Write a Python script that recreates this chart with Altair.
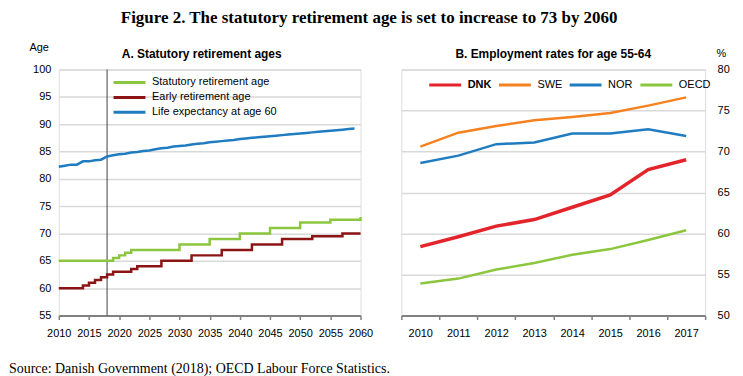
import altair as alt
import pandas as pd

# ---------- Panel A data ----------
stat_years = [2010, 2019, 2020, 2021, 2022, 2030, 2035, 2040, 2045, 2050, 2055, 2060]
stat_vals = [65, 65.5, 66, 66.5, 67, 68, 69, 70, 71, 72, 72.5, 73]

early_years = [2010, 2014, 2015, 2016, 2017, 2018, 2019, 2022, 2023, 2027, 2032,
               2037, 2042, 2047, 2052, 2057, 2060]
early_vals = [60, 60.5, 61, 61.5, 62, 62.5, 63, 63.5, 64, 65, 66, 67, 68, 69, 69.5, 70, 70]

life_years = list(range(2010, 2060))
life_vals = [82.2, 82.4, 82.6, 82.6, 83.2, 83.2, 83.4, 83.5, 84.1, 84.3,
             84.5, 84.6, 84.8, 84.9, 85.1, 85.2, 85.4, 85.6, 85.7, 85.9,
             86.0, 86.1, 86.3, 86.4, 86.5, 86.7, 86.8, 86.9, 87.0, 87.1,
             87.3, 87.4, 87.5, 87.6, 87.7, 87.8, 87.9, 88.0, 88.1, 88.2,
             88.3, 88.4, 88.5, 88.6, 88.7, 88.8, 88.9, 89.0, 89.1, 89.2]

series_a = ["Statutory retirement age", "Early retirement age", "Life expectancy at age 60"]
colors_a = ["#8CC63F", "#8B1414", "#1F7CC1"]
marker_year = [2018]

# ---------- Panel B data ----------
years_b = [2010, 2011, 2012, 2013, 2014, 2015, 2016, 2017]
dnk = [58.4, 59.6, 60.9, 61.7, 63.2, 64.7, 67.8, 69.0]
swe = [70.6, 72.3, 73.1, 73.8, 74.2, 74.7, 75.6, 76.6]
nor = [68.6, 69.5, 70.9, 71.1, 72.2, 72.2, 72.7, 71.9]
oecd = [53.9, 54.5, 55.6, 56.4, 57.4, 58.1, 59.2, 60.4]
series_b = ["DNK", "SWE", "NOR", "OECD"]
colors_b = ["#E3242B", "#F58220", "#1F7CC1", "#8CC63F"]

title_text = "Figure 2. The statutory retirement age is set to increase to 73 by 2060"
source_text = ["Source: Danish Government (2018); OECD Labour Force Statistics."]

FONT = "Liberation Sans Narrow, Arial Narrow, Liberation Sans"
FS = 11
LEG_PATH = "M-3,0H3"
LEG_SIZE = 114

rows_a = (
    [{"year": y, "value": v, "series": series_a[0]} for y, v in zip(stat_years, stat_vals)]
    + [{"year": y, "value": v, "series": series_a[1]} for y, v in zip(early_years, early_vals)]
    + [{"year": y, "value": v, "series": series_a[2]} for y, v in zip(life_years, life_vals)]
)
df_a = pd.DataFrame(rows_a)
df_a["step"] = df_a["series"] != series_a[2]

x_a = alt.X("year:Q", scale=alt.Scale(domain=[2010, 2060], nice=False, zero=False),
            axis=alt.Axis(values=list(range(2010, 2061, 5)), format="d", title=None,
                          grid=False, domainColor="#808080", domainWidth=2,
                          tickColor="#808080", tickSize=4, tickWidth=1.5,
                          labelFont=FONT, labelFontSize=FS, labelColor="#000000",
                          labelPadding=8, labelFlush=False))
y_a = alt.Y("value:Q", scale=alt.Scale(domain=[55, 100], nice=False, zero=False),
            axis=alt.Axis(values=list(range(55, 101, 5)), title="Age", titleAngle=0,
                          titleAlign="left", titleBaseline="middle", titleX=-30, titleY=-22,
                          titleFont=FONT, titleFontSize=FS, titleFontWeight="normal",
                          domain=False, ticks=False, gridColor="#D9D9D9", gridWidth=1.5,
                          labelFont=FONT, labelFontSize=FS, labelColor="#000000",
                          labelPadding=8, minExtent=48, maxExtent=48))

color_a = alt.Color("series:N", scale=alt.Scale(domain=series_a, range=colors_a),
                    legend=alt.Legend(title=None, orient="none", legendX=64, legendY=6,
                                      symbolType=LEG_PATH, symbolSize=LEG_SIZE,
                                      symbolStrokeWidth=3, labelFont=FONT,
                                      labelFontSize=FS, labelColor="#000000",
                                      rowPadding=2, labelOffset=15.6))

steps_a = alt.Chart(df_a[df_a["step"]]).mark_line(interpolate="step-after", strokeWidth=2.5).encode(
    x=x_a, y=y_a, color=color_a)
life_a = alt.Chart(df_a[~df_a["step"]]).mark_line(strokeWidth=2.5).encode(
    x=x_a, y=y_a, color=color_a)
rule_a = alt.Chart(pd.DataFrame({"year": marker_year})).mark_rule(color="#404040", strokeWidth=1).encode(
    x=x_a)

left = alt.layer(rule_a, steps_a, life_a).properties(
    width=303, height=247,
    title=alt.TitleParams("A. Statutory retirement ages", font=FONT, fontSize=12,
                          fontWeight="bold", anchor="middle", offset=-19, dx=-8),
)

rows_b = []
for name, vals in zip(series_b, [dnk, swe, nor, oecd]):
    for y, v in zip(years_b, vals):
        rows_b.append({"year": y, "value": v, "country": name})
df_b = pd.DataFrame(rows_b)

x_b = alt.X("year:Q", scale=alt.Scale(domain=[2009.5, 2017.5], nice=False, zero=False),
            axis=alt.Axis(values=[2009.5 + i for i in range(9)], title=None, grid=False,
                          labelExpr="datum.value > 2017 ? '' : format(datum.value + 0.5, 'd')",
                          labelOffset=19, domainColor="#808080", domainWidth=2,
                          tickColor="#808080", tickSize=4, tickWidth=1.5,
                          labelFont=FONT, labelFontSize=FS, labelColor="#000000",
                          labelPadding=8, labelFlush=False))
y_b = alt.Y("value:Q", scale=alt.Scale(domain=[50, 80], nice=False, zero=False),
            axis=alt.Axis(orient="right", values=list(range(50, 81, 5)), title="%",
                          titleAngle=0, titleAlign="left", titleBaseline="middle",
                          titleX=11, titleY=-16, titleFont=FONT, titleFontSize=FS,
                          titleFontWeight="normal", domain=False, ticks=False,
                          gridColor="#D9D9D9", gridWidth=1.5, labelFont=FONT,
                          labelFontSize=FS, labelColor="#000000", labelPadding=12))
color_b = alt.Color("country:N", scale=alt.Scale(domain=series_b, range=colors_b),
                    sort=series_b,
                    legend=alt.Legend(title=None, orient="none", legendX=37, legendY=8.5,
                                      direction="horizontal", symbolType=LEG_PATH,
                                      symbolSize=LEG_SIZE, symbolStrokeWidth=3,
                                      labelFont=FONT, labelFontSize=FS, labelColor="#000000",
                                      labelFontWeight=alt.ExprRef(
                                          "datum.label == 'DNK' ? 'bold' : 'normal'"),
                                      columnPadding=0, labelOffset=15.6))

right = alt.Chart(df_b).mark_line().encode(
    x=x_b, y=y_b, color=color_b,
    strokeWidth=alt.condition("datum.country == 'DNK'", alt.value(3.5), alt.value(2.5)),
).properties(
    width=305, height=247,
    title=alt.TitleParams("B. Employment rates for age 55-64", font=FONT, fontSize=12,
                          fontWeight="bold", anchor="middle", offset=-13),
)

top = alt.hconcat(left, right, spacing=26).resolve_scale(color="independent")

footer = alt.Chart(pd.DataFrame({"t": source_text})).mark_text(
    align="left", baseline="middle", font="Liberation Serif", fontSize=14, color="#000000"
).encode(x=alt.value(-50), y=alt.value(0), text="t:N").properties(width=10, height=4)

chart = alt.vconcat(top, footer, spacing=22).properties(
    title=alt.TitleParams(title_text, font="Liberation Serif", fontSize=17, fontWeight="bold",
                          anchor="middle", color="#000000", offset=14),
    padding={"left": 0, "top": 0, "right": 5, "bottom": 5},
).configure_view(stroke=None).configure(background="#FFFFFF")

chart.save("out.html", embed_options={"renderer": "svg", "actions": False})
